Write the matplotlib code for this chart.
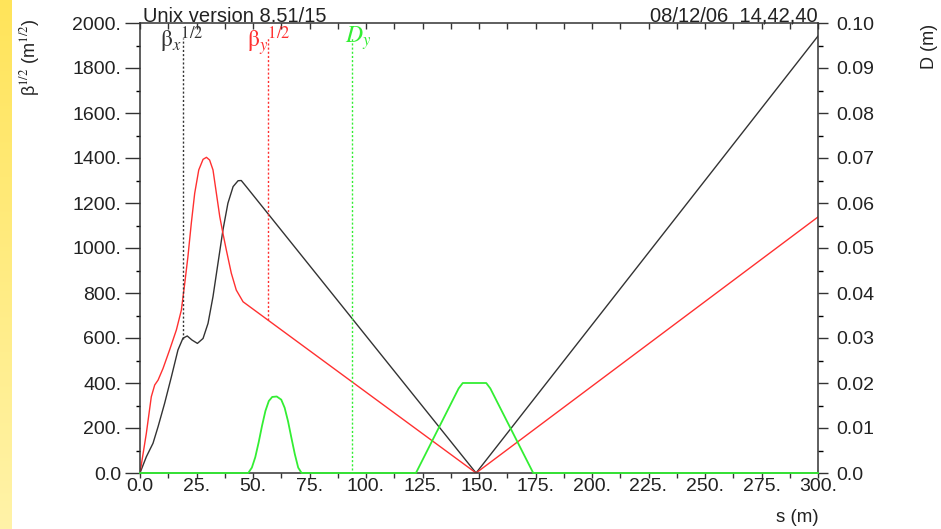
import numpy as np
import matplotlib
matplotlib.use("Agg")
import matplotlib.pyplot as plt

plt.rcParams['font.family'] = ['Liberation Sans', 'DejaVu Sans']
plt.rcParams['mathtext.fontset'] = 'stix'

# beta_x^(1/2) (black)
s_bx = [0, 2.8, 5.75, 8.0, 10.9, 13.9, 16.8, 19.0, 20.9, 23.0, 25.4, 27.9, 30.1, 32.3, 34.5,
        36.7, 38.9, 41.2, 43.4, 44.8, 47.0, 148.7, 300]
bx = [0, 72, 132, 206, 310, 428, 547, 599, 609, 591, 576, 598, 665, 784, 932,
      1080, 1199, 1273, 1299, 1300, 1273, 0, 1942]

# beta_y^(1/2) (red)
s_by = [0, 2.8, 5.0, 6.5, 8.0, 10.2, 13.1, 16.1, 18.3, 19.8, 21.2, 22.7, 24.2, 26.0, 27.9,
        29.4, 30.8, 32.3, 33.8, 35.3, 36.7, 38.2, 40.4, 42.6, 45.6, 148.7, 300]
by = [0, 176, 339, 391, 413, 465, 547, 636, 724, 843, 961, 1110, 1243, 1347, 1394,
      1403, 1391, 1347, 1243, 1139, 1065, 991, 888, 813, 761, 0, 1138]

# D_y (green, right axis)
s_dy = [0, 47.9, 49.5, 51, 52.5, 54, 55.5, 57, 58.5, 60.5, 62.5, 64, 65.5, 67, 68.5, 70, 71.5,
        122.1, 141.0, 142.8, 153.2, 155.0, 174.0, 300]
dy = [0, 0, 0.0012, 0.0035, 0.0068, 0.0105, 0.0138, 0.016, 0.0169, 0.0170, 0.0163, 0.0145, 0.0115,
      0.0078, 0.0042, 0.0012, 0, 0, 0.0188, 0.0200, 0.0200, 0.0188, 0, 0]

# marker lines and their labels
marker_s = [18.9, 56.5, 93.9]
marker_top = 1935
marker_labels = [r'$\mathrm{\beta}_{x}{}^{\mathit{1/2}}$', r'$\mathrm{\beta}_{y}{}^{\mathit{1/2}}$', r'$D_{y}$']
label_s = [8.8, 47.2, 90.5]

xticks = np.arange(0, 301, 25)
xlabels = ['0.0'] + ['%d.' % v for v in xticks[1:]]
yticks = np.arange(0, 2001, 200)
ylabels = ['0.0'] + ['%d.' % v for v in yticks[1:]]
dticks = np.arange(0, 0.101, 0.01)
dlabels = ['0.0'] + ['%.2f' % v for v in dticks[1:]]

black = '#333333'
red = '#ff3030'
green = '#33ee33'

fig = plt.figure(figsize=(9.41, 5.29), dpi=100)
ax = fig.add_axes([140 / 941, 56 / 529, 678 / 941, 450 / 529])
ax2 = ax.twinx()

# yellow strip on the left
strip = fig.add_axes([0, 0, 12 / 941, 1])
grad = np.linspace(0, 1, 256).reshape(-1, 1)
strip.imshow(grad, aspect='auto', cmap=matplotlib.colors.LinearSegmentedColormap.from_list(
    'y', ['#ffe45a', '#fff3a8']), extent=[0, 1, 0, 1], origin='upper')
strip.axis('off')

ax.plot(s_bx, bx, color=black, lw=1.0)
ax.plot(s_by, by, color=red, lw=1.0)
ax2.plot(s_dy, dy, color=green, lw=1.3, clip_on=False, zorder=5)

curves = [(s_bx, bx), (s_by, by), None]
colors = [black, red, green]
for i, xs in enumerate(marker_s):
    if curves[i] is not None:
        bottom = np.interp(xs, curves[i][0], curves[i][1])
    else:
        bottom = np.interp(xs, s_dy, dy) * 2000 / 0.1 + 15
    ax.vlines(xs, bottom, marker_top, color=colors[i], lw=1.0, linestyles=(0, (1.5, 1.5)))
    ax.text(label_s[i], 1995, marker_labels[i], color=colors[i], fontsize=17, va='top', ha='left')

ax.set_xlim(0, 300)
ax.set_ylim(0, 2000)
ax2.set_ylim(0, 0.1)

ax.set_xticks(xticks)
ax.set_xticklabels(xlabels)
ax.set_xticks(np.arange(12.5, 300, 25), minor=True)
ax.set_yticks(yticks)
ax.set_yticklabels(ylabels)
ax.set_yticks(np.arange(100, 2000, 200), minor=True)
ax2.set_yticks(dticks)
ax2.set_yticklabels(dlabels)
ax2.set_yticks(np.arange(0.005, 0.1, 0.01), minor=True)

for a in (ax, ax2):
    for sp in a.spines.values():
        sp.set_color(black)
        sp.set_linewidth(1.1)
ax.spines['right'].set_visible(False)
ax2.spines['left'].set_visible(False)
ax2.spines['top'].set_visible(False)
ax2.spines['bottom'].set_visible(False)

ax.tick_params(axis='y', which='major', direction='out', length=10.5, width=1.0, pad=3, labelsize=14, colors=black)
ax.tick_params(axis='y', which='minor', direction='out', length=3, width=1.0)
ax.tick_params(axis='x', which='both', direction='out', length=3.6, width=1.0, pad=0, labelsize=14,
               top=True, colors=black)
ax2.tick_params(axis='y', which='major', direction='out', length=7.2, width=1.0, pad=6, labelsize=14, colors=black)
ax2.tick_params(axis='y', which='minor', direction='out', length=3.6, width=1.0)
for t in ax.xaxis.get_ticklines(minor=False)[1::2] + ax.xaxis.get_ticklines(minor=True)[1::2]:
    t.set_marker(3)  # top ticks pointing inward
    t.set_markersize(4)
for lbl in ax.get_xticklabels() + ax.get_yticklabels() + ax2.get_yticklabels():
    lbl.set_color('#222222')

ax.text(0.004, 1.003, 'Unix version 8.51/15', transform=ax.transAxes, fontsize=14.5,
        ha='left', va='baseline', color='#222222')
ax.text(1.0, 1.003, '08/12/06  14,42,40', transform=ax.transAxes, fontsize=14.5,
        ha='right', va='baseline', color='#222222')

fig.text(30 / 941, 1 - 18 / 529, r'β$^{1/2}$ (m$^{1/2}$)', rotation=90,
         ha='center', va='top', fontsize=13, color='#222222')
fig.text(930 / 941, 1 - 24 / 529, 'D (m)', rotation=90, ha='center', va='top', fontsize=13,
         color='#222222')
fig.text(819 / 941, 1 - 522 / 529, 's (m)', ha='right', va='baseline', fontsize=13.5, color='#222222')

fig.savefig('out.png', dpi=100)
